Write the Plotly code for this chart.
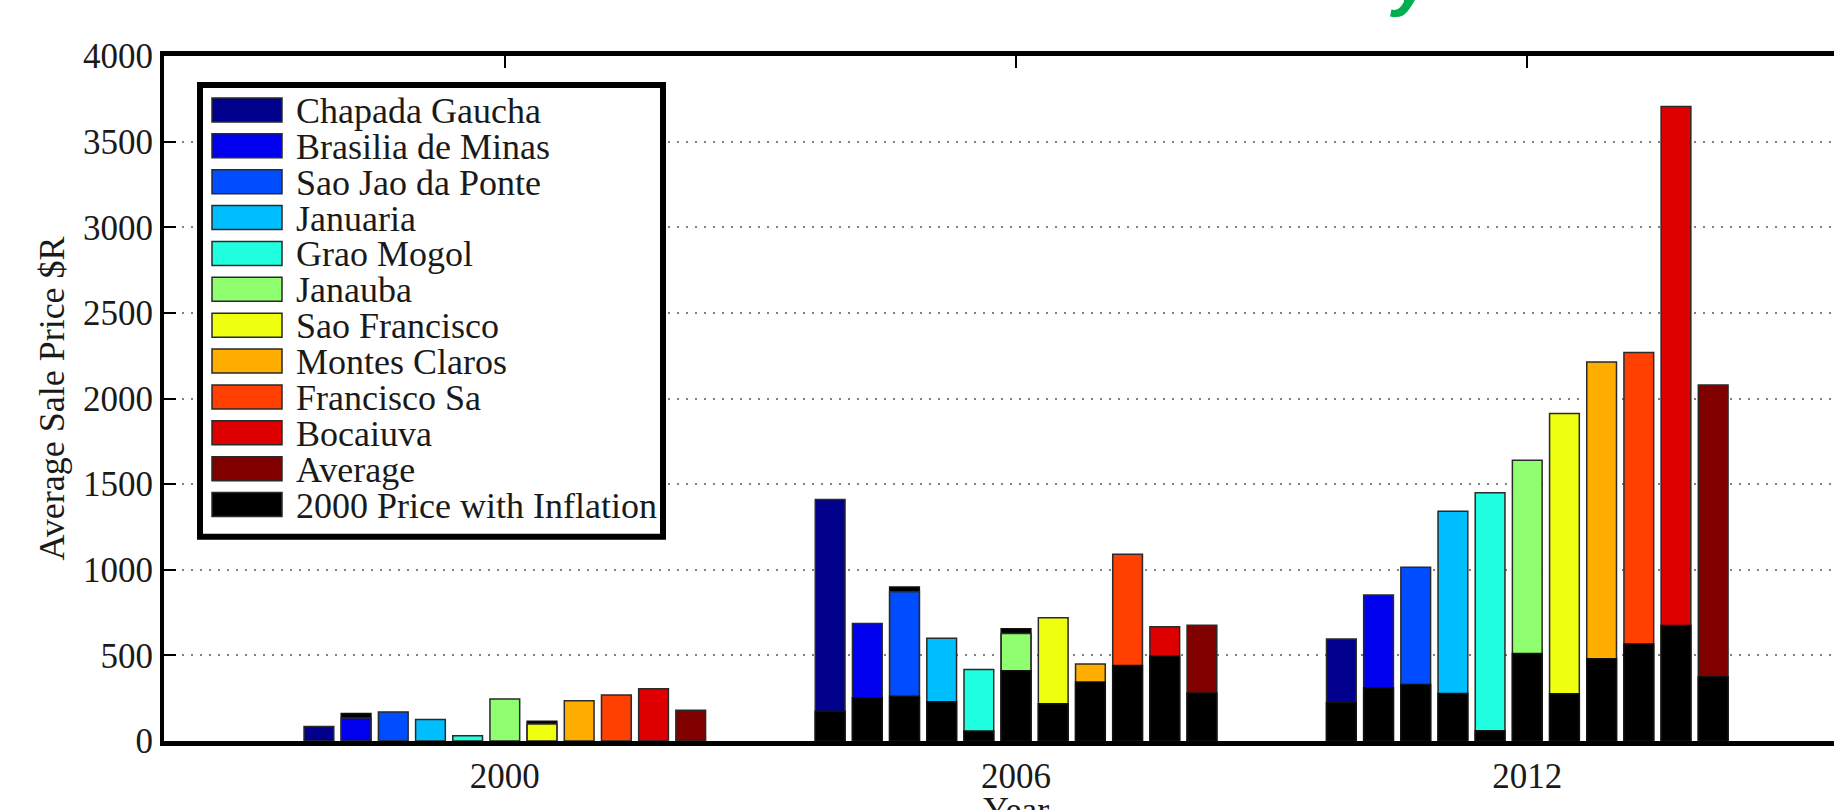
import plotly.graph_objects as go

# Regions (plus the regional average) shown in every year group
regions = [
    "Chapada Gaucha", "Brasilia de Minas", "Sao Jao da Ponte", "Januaria",
    "Grao Mogol", "Janauba", "Sao Francisco", "Montes Claros",
    "Francisco Sa", "Bocaiuva", "Average",
]
region_colors = [
    "#00008c", "#0000ee", "#004cff", "#00bfff", "#20ffdf", "#8fff6f",
    "#efff10", "#ffae00", "#ff4000", "#de0000", "#800000",
]
years = [2000, 2006, 2012]

# Average sale price per region, one list per year (R$)
price_2000 = [85, 135, 170, 125, 30, 245, 100, 235, 268, 305, 180]
price_2006 = [1410, 686, 872, 600, 417, 628, 719, 449, 1091, 667, 676]
price_2012 = [596, 853, 1014, 1342, 1449, 1639, 1913, 2213, 2269, 3705, 2079]

# 2000 price carried forward with inflation (black lower part of each bar)
inflation_2000 = [None] * 11
inflation_2006 = [174, 252, 262, 229, 58, 410, 217, 345, 441, 495, 281]
inflation_2012 = [225, 311, 330, 278, 60, 511, 276, 480, 567, 674, 375]

# Bars whose black backing reaches above the coloured price bar
backing_2000 = [None, 160, None, None, None, None, 115, None, None, None, None]
backing_2006 = [None, None, 900, None, None, 655, None, None, None, None, None]
backing_2012 = [None] * 11

prices = [price_2000, price_2006, price_2012]
inflation = [inflation_2000, inflation_2006, inflation_2012]
backing = [backing_2000, backing_2006, backing_2012]

FONT = "Liberation Serif"
n = len(regions)
spacing = 6.0
group_width = 0.8 * spacing
slot = group_width / n
bar_w = 0.8 * slot


def offset(i):
    return -group_width / 2 + i * slot + (slot - bar_w) / 2


fig = go.Figure()

# black backing bars (drawn first, behind the coloured bars)
for i in range(n):
    fig.add_trace(go.Bar(
        x=years, y=[b[i] for b in backing], width=bar_w, offset=offset(i),
        marker=dict(color="black", line=dict(color="#111", width=1.5)),
        showlegend=False, hoverinfo="skip",
    ))

# coloured sale-price bars
for i, (name, col) in enumerate(zip(regions, region_colors)):
    fig.add_trace(go.Bar(
        x=years, y=[p[i] for p in prices], width=bar_w, offset=offset(i),
        name=name, marker=dict(color=col, line=dict(color="#2a2a2a", width=1.5)),
        showlegend=False,
    ))

# inflation-adjusted 2000 price, in front
for i in range(n):
    fig.add_trace(go.Bar(
        x=years, y=[v[i] for v in inflation], width=bar_w, offset=offset(i),
        name="2000 Price with Inflation",
        marker=dict(color="black", line=dict(color="#111", width=1.5)),
        showlegend=False,
    ))

# legend box drawn in plot-paper coordinates
W, H, L, T, B = 1834, 810, 164, 56, 68.5
pw, ph = W - L, H - T - B


def px(xp):
    return (xp - L) / pw


def py(yp):
    return (H - B - yp) / ph


shapes = [dict(type="rect", xref="paper", yref="paper",
               x0=px(200), x1=px(663), y0=py(537), y1=py(85),
               line=dict(color="black", width=6), fillcolor="white", layer="above")]
annotations = []
legend_labels = regions + ["2000 Price with Inflation"]
legend_colors = region_colors + ["#000000"]
for k, (lab, col) in enumerate(zip(legend_labels, legend_colors)):
    cy = 110 + 35.9 * k
    shapes.append(dict(type="rect", xref="paper", yref="paper",
                       x0=px(212), x1=px(282), y0=py(cy + 12), y1=py(cy - 12),
                       line=dict(color="#2a2a2a", width=1.5), fillcolor=col, layer="above"))
    annotations.append(dict(xref="paper", yref="paper", x=px(294), y=py(cy + 1),
                            xanchor="left", yanchor="middle", text=lab, showarrow=False,
                            font=dict(family=FONT, size=36, color="#1a1a1a")))

# x-axis title, sitting just below the year labels
annotations.append(dict(xref="x", yref="paper", x=2006, y=py(789),
                        xanchor="center", yanchor="top", text="Year", showarrow=False,
                        font=dict(family=FONT, size=36, color="#1a1a1a")))

# green fragment of a heading above the figure
annotations.append(dict(xref="paper", yref="paper", x=px(1412), y=py(19),
                        xanchor="center", yanchor="bottom", text="<i><b>y</b></i>",
                        showarrow=False, font=dict(family="Liberation Sans", size=70, color="#00b050")))

fig.update_layout(
    width=W, height=H, barmode="overlay",
    margin=dict(l=L, r=0, t=T, b=B, autoexpand=False),
    plot_bgcolor="white", paper_bgcolor="white",
    font=dict(family=FONT, size=35, color="#1a1a1a"),
    shapes=shapes, annotations=annotations,
    xaxis=dict(
        range=[1996, 2015.6], tickvals=years, ticktext=[str(y) for y in years],
        showline=True, linewidth=5, linecolor="black", mirror="allticks",
        ticks="inside", ticklen=12, tickwidth=2, tickcolor="black",
        showgrid=False, zeroline=False, layer="below traces",
        tickfont=dict(family=FONT, size=35),
    ),
    yaxis=dict(
        range=[0, 4000], dtick=500,
        showline=True, linewidth=4, linecolor="black", mirror=False,
        ticks="inside", ticklen=12, tickwidth=2, tickcolor="black",
        showgrid=True, gridcolor="#808080", gridwidth=2, griddash="2px,7px",
        zeroline=False,
        tickfont=dict(family=FONT, size=35),
        title=dict(text="Average Sale Price $R", standoff=8, font=dict(family=FONT, size=36)),
    ),
)

fig.write_html("out.html")
